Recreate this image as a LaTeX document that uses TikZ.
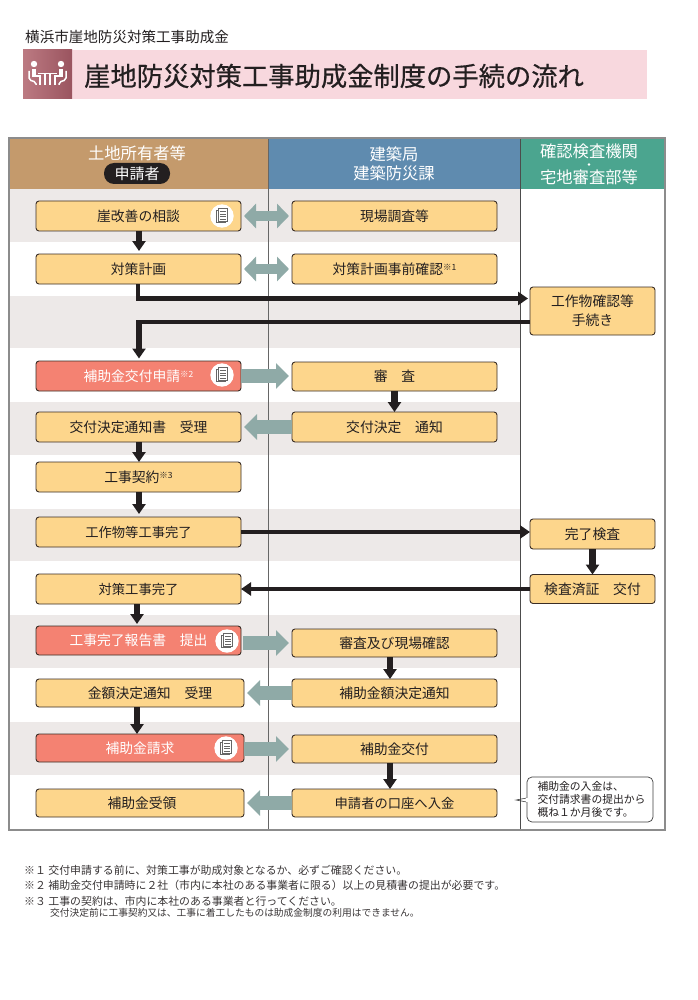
\documentclass[tikz,border=0pt]{standalone}
\usepackage{fontspec}
\setmainfont{Noto Sans CJK JP}
\newfontfamily\titlefont[FakeBold=0.5]{Noto Sans CJK JP}
\usetikzlibrary{arrows.meta,calc}
\definecolor{boxfill}{HTML}{FDD68C}
\definecolor{boxred}{HTML}{F48272}
\definecolor{bandgray}{HTML}{EDE9E8}
\definecolor{linkgray}{HTML}{8FAAA7}
\definecolor{inkdark}{HTML}{231F20}
\definecolor{headbrown}{HTML}{C49A6C}
\definecolor{headblue}{HTML}{5F8BAF}
\definecolor{headgreen}{HTML}{4BA58F}
\definecolor{titlepink}{HTML}{F8D8DE}
\definecolor{iconlight}{HTML}{BC7A82}
\definecolor{icondark}{HTML}{9A545F}
\tikzset{
	flowbox/.style={draw=inkdark!85!brown, line width=0.9pt, fill=boxfill, rounded corners=3pt, minimum width=205pt, minimum height=30pt, inner sep=0pt, outer sep=0pt, align=center, text=inkdark, font=\fontsize{13.8}{19}\selectfont},
	flowbold/.style={flowbox, fill=boxred, text=white},
	flownarrow/.style={font=\fontsize{13.3}{19}\selectfont},
	flowarrow/.style={draw=inkdark, line width=4.8pt, -{Triangle[width=13pt,length=10pt]}},
	flowstub/.style={flowarrow, line width=6.5pt},
	flowline/.style={draw=inkdark, line width=4.8pt},
	linkarrow/.style={draw=linkgray, line width=14pt, -{Triangle[width=25pt,length=13pt]}, shorten >=3pt},
	linkboth/.style={draw=linkgray, line width=10pt, {Triangle[width=24pt,length=12pt]}-{Triangle[width=24pt,length=12pt]}, shorten >=3pt, shorten <=3pt},
	headtext/.style={text=white, inner sep=0pt, align=center, font=\fontsize{16.3}{19}\selectfont},
	footnote/.style={anchor=west, inner sep=0pt, text=inkdark!90, font=\fontsize{10.9}{12}\selectfont}
}
\def\docicon(#1,#2){
	\fill[white] (#1,#2) circle (11.7);
	\draw[line width=0.8pt, color=black!60, fill=white] ($(#1,#2)+(-5.5,-6)$) rectangle ($(#1,#2)+(3.5,6.5)$);
	\draw[line width=0.8pt, color=black!60, fill=white] ($(#1,#2)+(-3.5,-7.5)$) rectangle ($(#1,#2)+(5.5,5)$);
	\draw[line width=0.7pt, color=black!60] ($(#1,#2)+(-2,-4.5)$) -- ($(#1,#2)+(4,-4.5)$);
	\draw[line width=0.7pt, color=black!60] ($(#1,#2)+(-2,-2)$) -- ($(#1,#2)+(4,-2)$);
	\draw[line width=0.7pt, color=black!60] ($(#1,#2)+(-2,0.5)$) -- ($(#1,#2)+(4,0.5)$);
	\draw[line width=0.7pt, color=black!60] ($(#1,#2)+(-2,3)$) -- ($(#1,#2)+(4,3)$);
}
\newcommand{\notemark}[1]{\raisebox{3.5pt}{\fontsize{8.5}{9}\selectfont ※#1}}

\begin{document}
\begin{tikzpicture}[x=1pt, y=-1pt]
	%%%%% START %%%%%
	\useasboundingbox (0, 0) rectangle (697, 1000);
	\fill[white] (0, 0) rectangle (697, 1000);
	
	\node[anchor=west, inner sep=0pt, text=inkdark, font=\fontsize{14.55}{16}\selectfont] (citytitle) at (25, 37) {横浜市崖地防災対策工事助成金};
	
	\fill[titlepink] (72, 50) rectangle (647, 99);
	\shade[shading angle=135, left color=iconlight, right color=icondark] (23, 50) rectangle (72, 99);
	\node[anchor=west, inner sep=0pt, text=inkdark, font=\fontsize{26.3}{28}\titlefont] (maintitle) at (84, 76) {崖地防災対策工事助成金制度の手続の流れ};
	
	\fill[white] (34, 64) circle (3.2);
	\fill[white] (61, 64) circle (3.2);
	\draw[white, line width=4pt] (34, 69) -- (34, 77);
	\draw[white, line width=4pt] (61, 69) -- (61, 77);
	\draw[white, line width=2pt] (34, 76) -- (40, 76) -- (40, 85);
	\draw[white, line width=2pt] (61, 76) -- (55, 76) -- (55, 85);
	\draw[white, line width=1.5pt, rounded corners=2pt] (29, 71) -- (29, 80) -- (36, 82) -- (36, 85);
	\draw[white, line width=1.5pt, rounded corners=2pt] (66, 71) -- (66, 80) -- (59, 82) -- (59, 85);
	\draw[white, line width=1.6pt] (38, 73.5) -- (57, 73.5);
	\draw[white, line width=1.4pt] (45, 73.5) -- (45, 85);
	\draw[white, line width=1.4pt] (50, 73.5) -- (50, 85);
	
	%%%%% BANDS %%%%%
	\fill[bandgray] (9, 189) rectangle (520, 242);
	\fill[bandgray] (9, 296) rectangle (520, 348);
	\fill[bandgray] (9, 402) rectangle (520, 455);
	\fill[bandgray] (9, 509) rectangle (520, 561);
	\fill[bandgray] (9, 615) rectangle (520, 668);
	\fill[bandgray] (9, 722) rectangle (520, 775);
	
	\fill[headbrown] (9, 138) rectangle (268, 189);
	\fill[headblue] (268, 138) rectangle (520, 189);
	\fill[headgreen] (520, 138) rectangle (665, 189);
	\draw[line width=0.9pt, color=black!60] (268, 138) -- (268, 830);
	\draw[line width=0.9pt, color=black!70] (520, 138) -- (520, 830);
	\draw[line width=1.1pt, color=black!45] (9, 138) rectangle (665, 830);
	
	\node[headtext] (headowner) at (137, 153) {土地所有者等};
	\node[fill=inkdark, text=white, rounded corners=10pt, minimum width=66pt, minimum height=21pt, inner sep=0pt, font=\fontsize{15}{17}\selectfont] (headapplicant) at (137, 173.5) {申請者};
	\node[headtext] (headcity) at (394, 154) {建築局};
	\node[headtext] (headsection) at (394, 173) {建築防災課};
	\node[headtext] (headcheck) at (589, 151) {確認検査機関};
	\fill[white] (589, 164.5) circle (1.3);
	\node[headtext] (headhouse) at (589, 177) {宅地審査部等};
	
	%%%%% LEFT %%%%%
	\node[flowbox] (consult) at (138.5, 216) {崖改善の相談};
	\node[flowbox] (plan) at (138.5, 269) {対策計画};
	\node[flowbold] (apply) at (138.5, 376) {補助金交付申請\notemark{2}};
	\node[flowbox] (receive) at (138.5, 427) {交付決定通知書\hspace{1em}受理};
	\node[flowbox] (contract) at (138.5, 477) {工事契約\notemark{3}};
	\node[flowbox, flownarrow] (finishwork) at (138.5, 532) {工作物等工事完了};
	\node[flowbox, flownarrow] (finishplan) at (138.5, 589) {対策工事完了};
	\node[flowbold, minimum height=29pt] (report) at (138.5, 640.5) {工事完了報告書\hspace{1em}提出};
	\node[flowbox, minimum width=208pt, minimum height=28pt] (amount) at (140, 693) {\hspace{20pt}金額決定通知\hspace{1em}受理};
	\node[flowbold, minimum width=208pt, minimum height=28pt] (request) at (140, 748) {補助金請求};
	\node[flowbox, minimum width=208pt, minimum height=28pt] (getmoney) at (140, 803) {\hspace{4pt}補助金受領};
	
	%%%%% MIDDLE %%%%%
	\node[flowbox] (survey) at (394.5, 216) {現場調査等};
	\node[flowbox] (precheck) at (394.5, 269) {対策計画事前確認\notemark{1}};
	\node[flowbox, minimum height=29pt] (exam) at (394.5, 376.5) {審\hspace{1em}査};
	\node[flowbox] (decide) at (394.5, 427) {交付決定\hspace{1em}通知};
	\node[flowbox, minimum height=28pt] (examsite) at (394.5, 643) {審査及び現場確認};
	\node[flowbox, minimum height=28pt] (amountnotice) at (394.5, 693) {補助金額決定通知};
	\node[flowbox, minimum height=28pt] (pay) at (394.5, 749) {補助金交付};
	\node[flowbox, flownarrow, minimum height=28pt] (deposit) at (394.5, 803) {申請者の口座へ入金};
	
	%%%%% RIGHT %%%%%
	\node[flowbox, minimum width=125pt, minimum height=48pt] (building) at (592.5, 311) {工作物確認等\\手続き};
	\node[flowbox, minimum width=125pt] (inspect) at (592.5, 534) {完了検査};
	\node[flowbox, minimum width=125pt, minimum height=29pt] (certify) at (592.5, 589) {検査済証\hspace{1em}交付};
	
	\node[draw=black!75, line width=0.7pt, fill=white, rounded corners=5pt, minimum width=126pt, minimum height=45pt, inner sep=0pt, align=left, text=inkdark, font=\fontsize{10.8}{13.3}\selectfont] (memo) at (590, 799.5) {\hspace*{3pt}補助金の入金は、\\\hspace*{3pt}交付請求書の提出から\\\hspace*{3pt}概ね１か月後です。};
	\coordinate (memotip) at (516, 800);
	\draw[line width=0.6pt, color=black!75] (memo.west |- 0, 798) -- (memotip) -- (memo.west |- 0, 802);
	\fill[white] (526.4, 798.4) rectangle (528, 801.6);
	
	%%%%% ICONS %%%%%
	\docicon(222,216)
	\docicon(222,375)
	\docicon(227,641)
	\docicon(226,748)
	
	%%%%% ARROWS %%%%%
	\draw[flowstub] (consult.south -| 139, 0) -- (139, 251);
	\draw[flowarrow, shorten >=2pt] (plan.south -| 138, 0) -- (138, 298.5) -- (building.west |- 0, 298.5);
	\draw[flowline] (building.west |- 0, 322) -- (139, 322);
	\draw[flowstub] (139, 320) -- (139, 358.5);
	\draw[flowstub] (exam.south) -- (decide.north);
	\draw[flowstub] (receive.south -| 139, 0) -- (contract.north -| 139, 0);
	\draw[flowstub] (contract.south -| 139, 0) -- (139, 514);
	\draw[flowarrow] (finishwork.east) -- (finishwork.east -| inspect.west);
	\draw[flowstub] (inspect.south) -- (certify.north);
	\draw[flowarrow] (certify.west) -- (finishplan.east);
	\draw[flowstub] (finishplan.south -| 137, 0) -- (137, 624);
	\draw[flowstub] (amount.south -| 137, 0) -- (request.north -| 137, 0);
	\draw[flowstub] (examsite.south -| 390, 0) -- (amountnotice.north -| 390, 0);
	\draw[flowstub] (pay.south -| 390, 0) -- (deposit.north -| 390, 0);
	
	\draw[linkboth] (consult.east) -- (survey.west);
	\draw[linkboth] (plan.east) -- (precheck.west);
	\draw[linkarrow] (apply.east) -- (apply.east -| exam.west);
	\draw[linkarrow] (decide.west) -- (receive.east);
	\draw[linkarrow] (243, 643) -- (examsite.west);
	\draw[linkarrow] (amountnotice.west) -- (amount.east);
	\draw[linkarrow] (244, 749) -- (pay.west);
	\draw[linkarrow] (deposit.west) -- (getmoney.east);
	
	%%%%% NOTES %%%%%
	\node[footnote] (noteone) at (24, 870) {※１ 交付申請する前に、対策工事が助成対象となるか、必ずご確認ください。};
	\node[footnote] (notetwo) at (24, 885.5) {※２ 補助金交付申請時に２社（市内に本社のある事業者に限る）以上の見積書の提出が必要です。};
	\node[footnote] (notethree) at (24, 901) {※３ 工事の契約は、市内に本社のある事業者と行ってください。};
	\node[footnote, font=\fontsize{9.73}{11}\selectfont] (notefour) at (50, 913) {交付決定前に工事契約又は、工事に着工したものは助成金制度の利用はできません。};
	%%%%% END %%%%%
\end{tikzpicture}
\end{document}
